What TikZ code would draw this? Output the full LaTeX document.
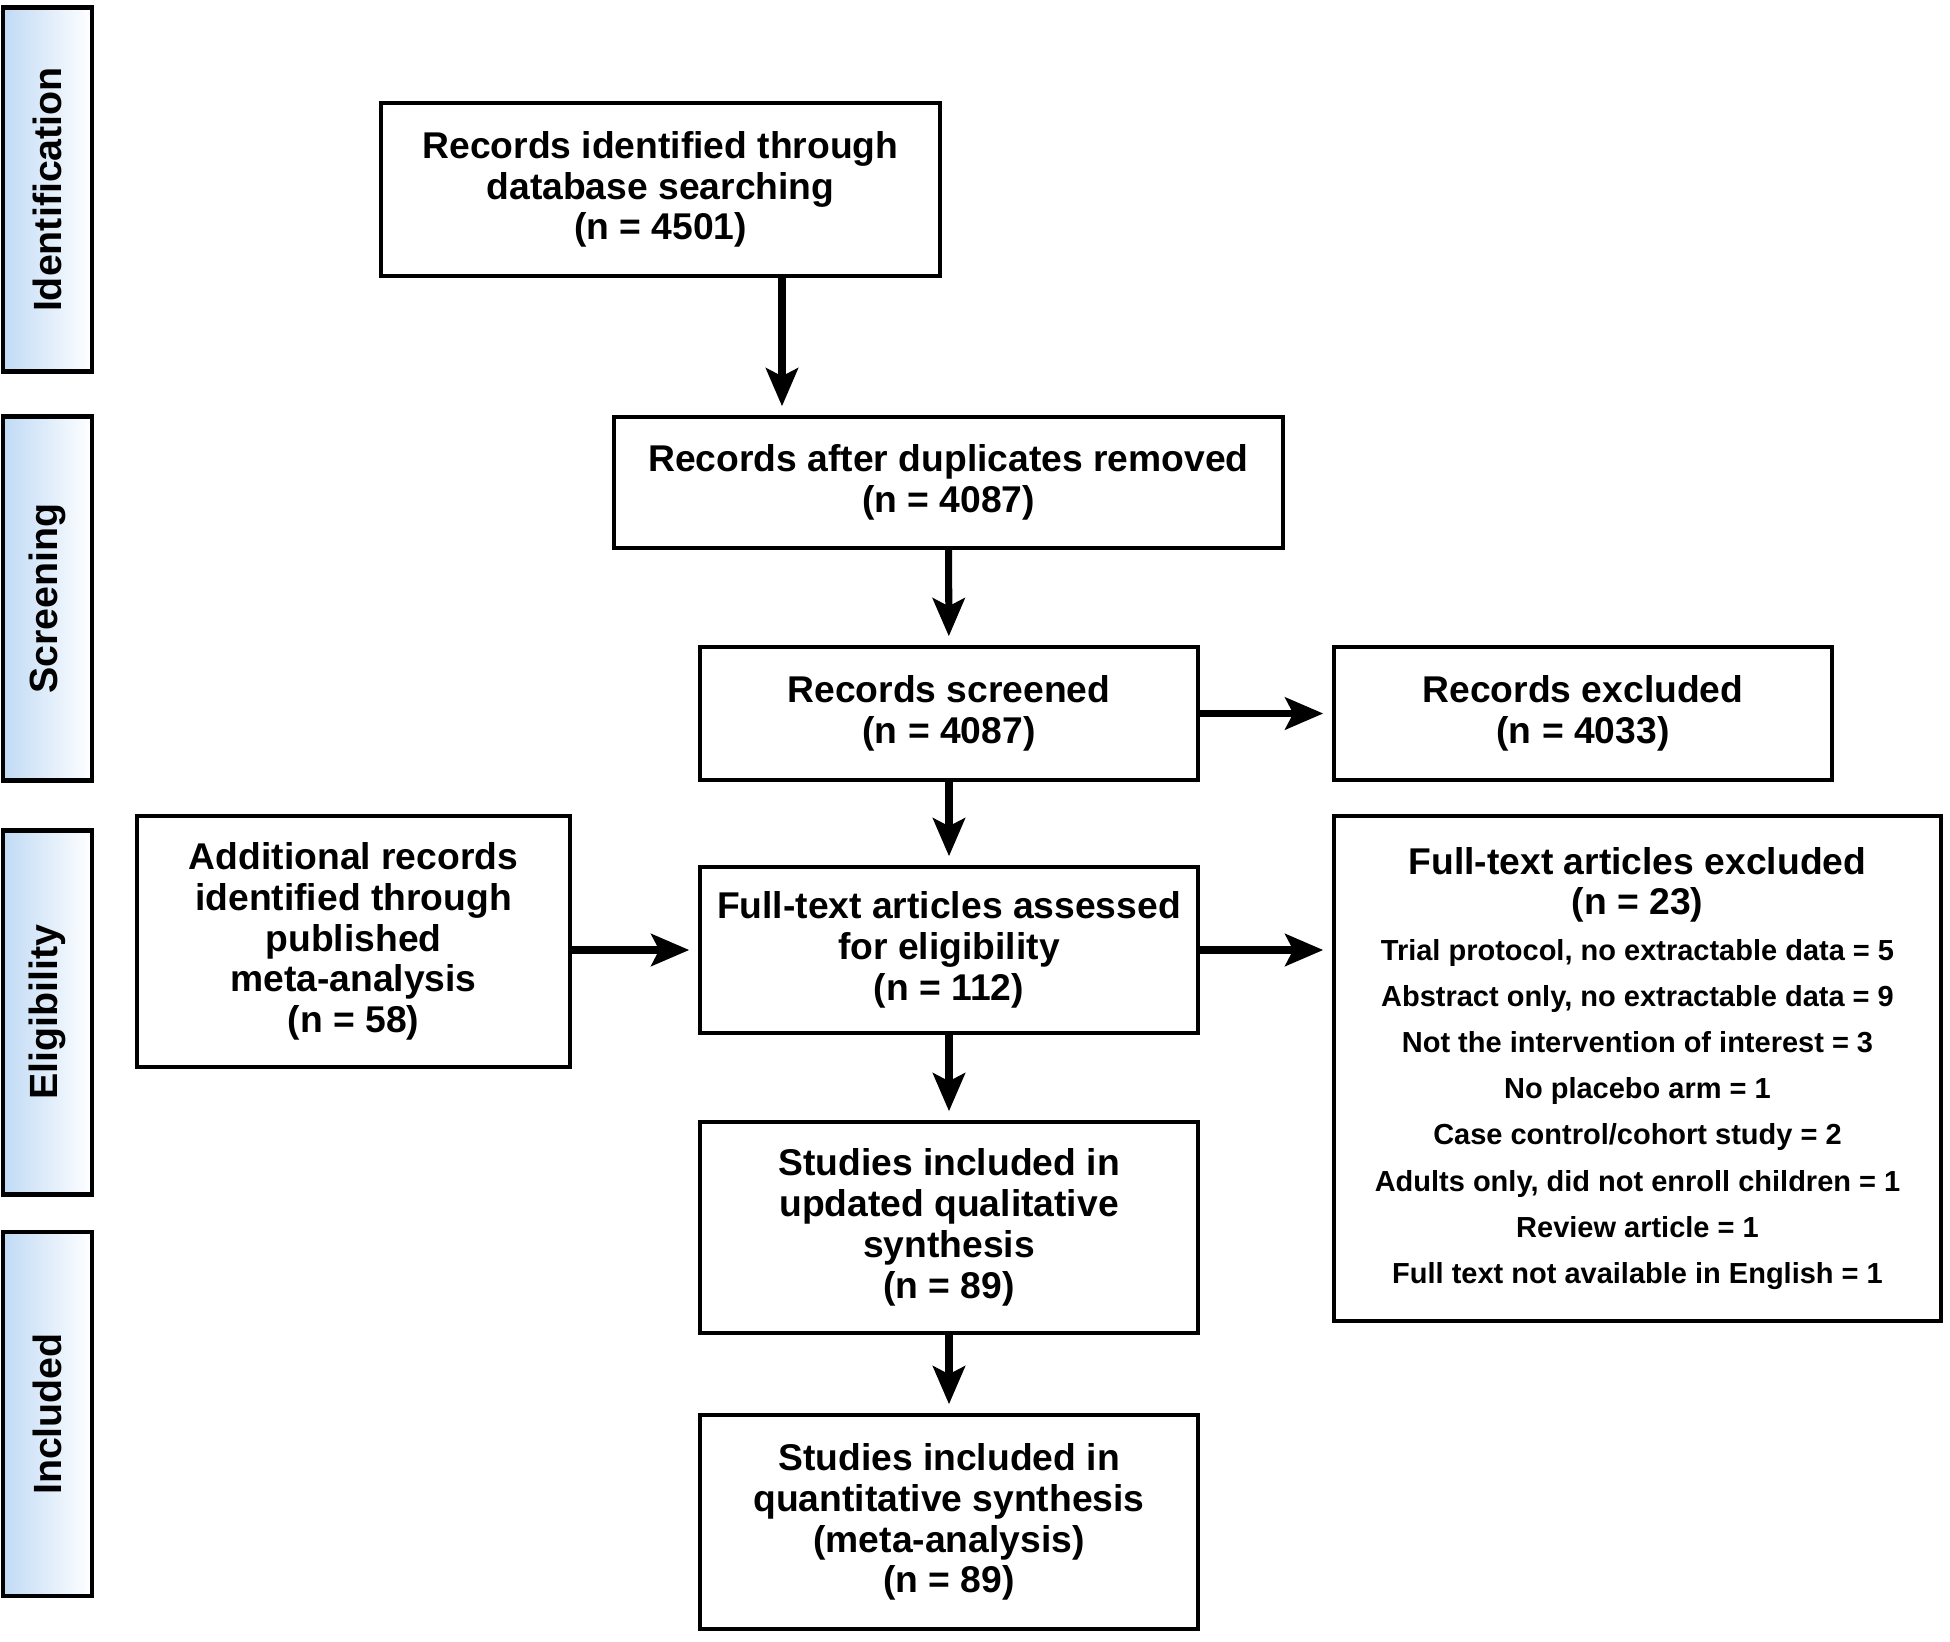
\documentclass[tikz,border=0pt]{standalone}
\usepackage{fontspec}
\usepackage{graphicx}
\setmainfont{Liberation Sans}
\usetikzlibrary{arrows.meta}
\definecolor{sideblue}{RGB}{192,218,245}
\newcommand\hdfont{\fontsize{10.6}{11.6}\selectfont\bfseries}
\newcommand\lsfont{\fontsize{8.25}{13.1}\selectfont\bfseries}
\begin{document}
\begin{tikzpicture}[box/.style = {draw, line width=1pt, align=center, inner sep=0pt, font=\hdfont},
      stage/.style = {draw, line width=1.3pt, left color=sideblue, right color=white, minimum width=0.89cm, minimum height=3.64cm, inner sep=0pt, font=\fontsize{11.2}{12}\selectfont\bfseries},
      arr/.style = {line width=2pt, -{Stealth[length=0.38cm, width=0.32cm, inset=0.08cm]}, shorten >=0.09cm}]
      \useasboundingbox (0,0) rectangle (19.5,-16.42);
      \node[stage] (ident) at (0.475,-1.895) {\rotatebox{90}{Identification}};
      \node[stage] (scrn) at (0.475,-5.985) {\rotatebox{90}{Screening}};
      \node[stage] (elig) at (0.475,-10.125) {\rotatebox{90}{Eligibility}};
      \node[stage] (incl) at (0.475,-14.14) {\rotatebox{90}{Included}};
      \node[box, minimum width=5.59cm, minimum height=1.73cm] (search) at (6.605,-1.895) {Records identified through\\database searching\\(n = 4501)};
      \node[box, minimum width=6.69cm, minimum height=1.31cm] (dupl) at (9.485,-4.825) {Records after duplicates removed\\(n = 4087)};
      \node[box, minimum width=4.98cm, minimum height=1.33cm] (screened) at (9.49,-7.135) {Records screened\\(n = 4087)};
      \node[box, minimum width=4.98cm, minimum height=1.33cm] (recexcl) at (15.83,-7.135) {Records excluded\\(n = 4033)};
      \node[box, minimum width=4.98cm, minimum height=1.66cm] (fulltext) at (9.49,-9.50) {Full-text articles assessed\\for eligibility\\(n = 112)};
      \node[box, minimum width=4.33cm, minimum height=2.51cm] (extra) at (3.535,-9.415) {Additional records\\identified through\\published\\meta-analysis\\(n = 58)};
      \node[box, minimum width=6.07cm, minimum height=5.05cm, font=\lsfont] (fullexcl) at (16.375,-10.685) {{\hdfont Full-text articles excluded}\\[-0.06cm]{\hdfont (n = 23)}\\
        Trial protocol, no extractable data = 5\\
        Abstract only, no extractable data = 9\\
        Not the intervention of interest = 3\\
        No placebo arm = 1\\
        Case control/cohort study = 2\\
        Adults only, did not enroll children = 1\\
        Review article = 1\\
        Full text not available in English = 1};
      \node[box, minimum width=4.98cm, minimum height=2.11cm] (qual) at (9.49,-12.275) {Studies included in\\updated qualitative\\synthesis\\(n = 89)};
      \node[box, minimum width=4.98cm, minimum height=2.14cm] (quant) at (9.49,-15.22) {Studies included in\\quantitative synthesis\\(meta-analysis)\\(n = 89)};
      \coordinate (drop) at (7.82,0);
      \draw[arr] (search.south -| drop) -- (dupl.north -| drop);
      \draw[arr] (dupl) -- (screened);
      \draw[arr] (screened) -- (fulltext);
      \draw[arr] (fulltext) -- (qual);
      \draw[arr] (qual) -- (quant);
      \draw[arr] (screened) -- (recexcl);
      \draw[arr] (fulltext.east) -- (fulltext.east -| fullexcl.west);
      \draw[arr] (extra.east |- fulltext.west) -- (fulltext.west);
    \end{tikzpicture}
\end{document}
